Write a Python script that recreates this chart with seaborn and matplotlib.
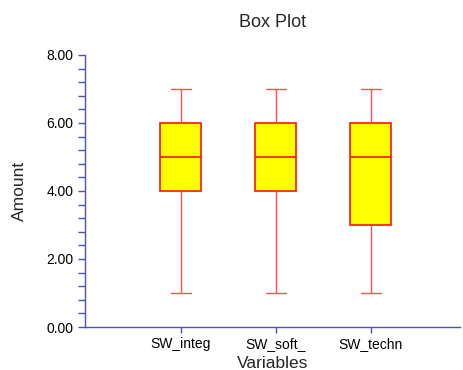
import matplotlib
matplotlib.use('Agg')
import matplotlib.pyplot as plt
import seaborn as sns
import pandas as pd
from matplotlib.ticker import MultipleLocator, FormatStrFormatter

# five-number summaries: min, Q1, median, Q3, max
variables = ['SW_integ', 'SW_soft_', 'SW_techn']
SW_integ = [1, 4, 5, 6, 7]
SW_soft_ = [1, 4, 5, 6, 7]
SW_techn = [1, 3, 5, 6, 7]

df = pd.DataFrame({
    'Variables': [v for v in variables for _ in range(5)],
    'Amount': SW_integ + SW_soft_ + SW_techn,
})

sns.set_style('white')
plt.rcParams['font.family'] = ['Liberation Sans', 'DejaVu Sans']

fig = plt.figure(figsize=(4.63, 3.70), dpi=100)
ax = fig.add_axes([0.1836, 0.1162, 0.81, 0.7352])

axis_col = '#5050b0'
sns.boxplot(data=df, x='Variables', y='Amount', ax=ax, whis=(0, 100),
            width=0.43, color='#ffff00', linecolor='#ff1010', linewidth=1.2,
            whiskerprops={'color': '#ff5050', 'linewidth': 1.0},
            capprops={'color': '#ff5050', 'linewidth': 1.0},
            medianprops={'color': '#ff1010', 'linewidth': 1.2},
            fill=True, saturation=1)

ax.set_ylim(0, 8)
ax.set_xlim(-1.01, 2.94)
ax.yaxis.set_major_locator(MultipleLocator(2))
ax.yaxis.set_minor_locator(MultipleLocator(0.4))
ax.yaxis.set_major_formatter(FormatStrFormatter('%.2f'))

for side in ['top', 'right']:
    ax.spines[side].set_visible(False)
for side in ['left', 'bottom']:
    ax.spines[side].set_color(axis_col)
    ax.spines[side].set_linewidth(1.0)

ax.tick_params(axis='both', which='both', direction='out', color=axis_col,
               labelsize=10, labelcolor='black')
ax.tick_params(axis='y', which='both', length=5, width=1, left=True)
ax.tick_params(axis='x', which='major', length=4, width=1, bottom=True)

ax.set_title('Box Plot', fontsize=13, pad=20)
ax.set_xlabel('Variables', fontsize=12.5, labelpad=3)
ax.set_ylabel('Amount', fontsize=12.5, labelpad=14)

plt.savefig('out.png', dpi=100)
